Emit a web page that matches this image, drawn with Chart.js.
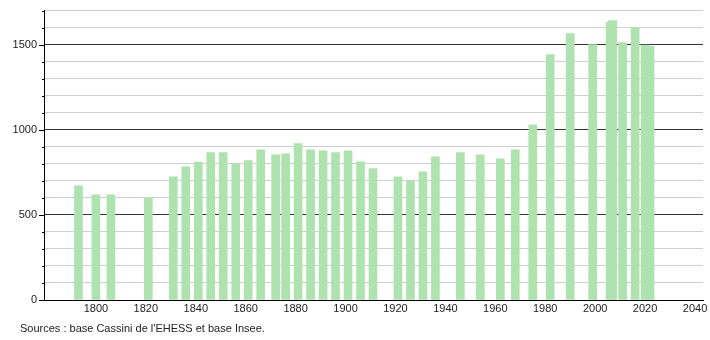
<!DOCTYPE html>
<html><head><meta charset="utf-8">
<script src="https://cdn.jsdelivr.net/npm/chart.js@4/dist/chart.umd.min.js"></script>
<style>html,body{margin:0;padding:0;background:#fff}#wrap{width:710px;height:340px}</style>
</head><body><div id="wrap"><canvas id="c" width="710" height="340"></canvas></div>
<script>
const years = [1793,1800,1806,1821,1831,1836,1841,1846,1851,1856,1861,1866,1872,1876,1881,1886,1891,1896,1901,1906,1911,1921,1926,1931,1936,1946,1954,1962,1968,1975,1982,1990,1999,2006,2007,2011,2016,2020,2022];
const population = [670,618,618,600,724,782,810,865,865,800,818,882,853,859,918,882,876,865,876,812,771,724,700,753,841,865,853,829,882,1029,1441,1565,1500,1630,1641,1512,1598,1497,1490];
const xTickLabels = [1800,1820,1840,1860,1880,1900,1920,1940,1960,1980,2000,2020,2040];
const yTickValues = [0,100,200,300,400,500,600,700,800,900,1000,1100,1200,1300,1400,1500,1600,1700];
const sourceText = "Sources : base Cassini de l'EHESS et base Insee.";

const extras = {
  id:'extras',
  afterDraw(chart){
    const y = chart.scales.y, ctx = chart.ctx, x0 = chart.chartArea.left;
    ctx.save(); ctx.strokeStyle='#000'; ctx.lineWidth=1;
    y.ticks.forEach(t=>{
      const py = Math.round(y.getPixelForValue(t.value))+0.5;
      const len = t.value % 500 === 0 ? 5 : 2;
      ctx.beginPath(); ctx.moveTo(x0-len, py); ctx.lineTo(x0, py); ctx.stroke();
    });
    ctx.fillStyle='#222'; ctx.font='11px "Liberation Sans"'; ctx.textBaseline='middle'; ctx.textAlign='left';
    ctx.fillText(sourceText, 20, 328.5);
    ctx.restore();
  }
};

new Chart(document.getElementById('c'), {
  type:'bar',
  data:{datasets:[{data: years.map((y,i)=>({x:y,y:population[i]})), backgroundColor:'#aee2ae', borderWidth:0, barThickness:8}]},
  options:{
    responsive:false, animation:false,
    layout:{padding:{top:10.5,right:7,left:0,bottom:24}},
    plugins:{legend:{display:false}, tooltip:{enabled:false}},
    scales:{
      x:{type:'linear', min:1779.2, max:2043.2, offset:false,
        afterBuildTicks(s){ s.ticks = xTickLabels.map(v=>({value:v})); },
        afterFit(s){ s.height = 16; },
        grid:{display:false, drawTicks:false, offset:false},
        border:{color:'#000', width:1},
        ticks:{padding:2.5, color:'#222', font:{family:'Liberation Sans', size:11}, autoSkip:false, maxRotation:0, callback:v=>String(v)}},
      y:{min:0, max:1700,
        afterBuildTicks(s){ s.ticks = yTickValues.map(v=>({value:v})); },
        afterFit(s){ s.width = 44; s.paddingTop = 0; },
        grid:{drawTicks:false, color:c=> (c.tick && c.tick.value % 500 === 0 && c.tick.value!==0) ? '#333' : '#cfcfcf'},
        border:{color:'#000', width:1},
        ticks:{padding:7, color:'#222', font:{family:'Liberation Sans', size:11}, callback:v=> v % 500 === 0 && v < 1700 ? String(v) : ''}}
    }
  },
  plugins:[extras]
});
</script></body></html>
